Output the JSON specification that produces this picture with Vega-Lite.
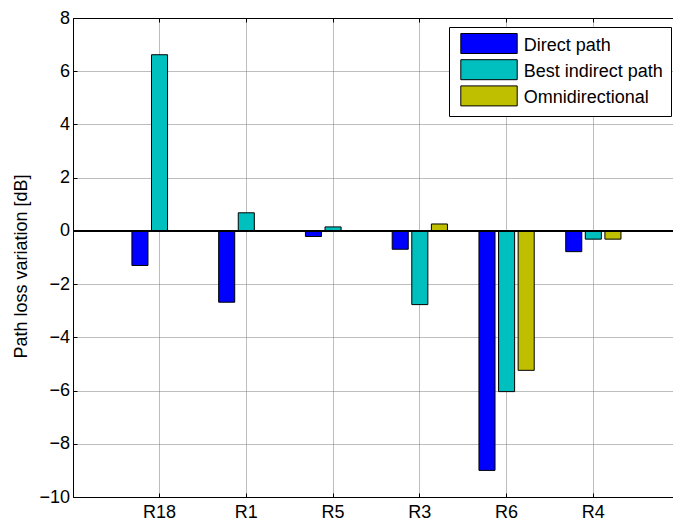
{
  "$schema": "https://vega.github.io/schema/vega-lite/v6.json",
  "width": 600,
  "height": 479,
  "autosize": {"type": "none"},
  "padding": {"left": 73, "top": 18, "right": 0, "bottom": 23},
  "background": "white",
  "config": {"view": {"stroke": null}, "font": "Liberation Sans"},
  "data": {"values": [
    {"site": "R18", "series": "Direct path", "value": -1.30},
    {"site": "R18", "series": "Best indirect path", "value": 6.62},
    {"site": "R1", "series": "Direct path", "value": -2.68},
    {"site": "R1", "series": "Best indirect path", "value": 0.68},
    {"site": "R5", "series": "Direct path", "value": -0.21},
    {"site": "R5", "series": "Best indirect path", "value": 0.15},
    {"site": "R3", "series": "Direct path", "value": -0.69},
    {"site": "R3", "series": "Best indirect path", "value": -2.77},
    {"site": "R3", "series": "Omnidirectional", "value": 0.26},
    {"site": "R6", "series": "Direct path", "value": -9.00},
    {"site": "R6", "series": "Best indirect path", "value": -6.04},
    {"site": "R6", "series": "Omnidirectional", "value": -5.24},
    {"site": "R4", "series": "Direct path", "value": -0.78},
    {"site": "R4", "series": "Best indirect path", "value": -0.31},
    {"site": "R4", "series": "Omnidirectional", "value": -0.31}
  ]},
  "layer": [
    {
      "mark": {"type": "bar", "stroke": "black", "strokeWidth": 1},
      "encoding": {
        "x": {
          "field": "site", "type": "nominal",
          "sort": ["R18", "R1", "R5", "R3", "R6", "R4"],
          "scale": {"domain": ["R18", "R1", "R5", "R3", "R6", "R4"], "paddingInner": 0.3226, "paddingOuter": 0.619, "align": 0.532},
          "axis": {
            "orient": "bottom", "title": null, "labelAngle": 0,
            "labelFontSize": 18, "labelColor": "black", "labelPadding": 10,
            "domainColor": "black", "tickColor": "black", "tickSize": -4,
            "grid": true, "bandPosition": 0.5, "gridColor": "#7a7a7a", "gridDash": [1, 1]
          }
        },
        "xOffset": {
          "field": "series", "type": "nominal",
          "sort": ["Direct path", "Best indirect path", "Omnidirectional"],
          "scale": {"domain": ["Direct path", "Best indirect path", "Omnidirectional"], "paddingInner": 0.18, "paddingOuter": 0.09}
        },
        "y": {
          "field": "value", "type": "quantitative",
          "scale": {"domain": [-10, 8], "nice": false, "zero": false},
          "axis": {
            "values": [-10, -8, -6, -4, -2, 0, 2, 4, 6, 8],
            "title": "Path loss variation [dB]", "titleFontSize": 18, "titleFontWeight": "normal",
            "titleColor": "black", "titleAngle": -90, "titleX": -46.5, "titleY": 248,
            "titleAlign": "center", "titleBaseline": "alphabetic",
            "labelFontSize": 18, "labelColor": "black", "labelPadding": 7.5,
            "domainColor": "black", "tickColor": "black", "tickSize": -4,
            "grid": true, "gridColor": "#7a7a7a", "gridDash": [1, 1]
          }
        },
        "color": {
          "field": "series", "type": "nominal",
          "scale": {"domain": ["Direct path", "Best indirect path", "Omnidirectional"], "range": ["#0000ff", "#00bfbf", "#bfbf00"]},
          "legend": {
            "orient": "none", "legendX": 376, "legendY": 9, "title": null, "direction": "vertical",
            "strokeColor": "black", "fillColor": "white", "padding": 8, "rowPadding": 1.2,
            "symbolType": "M-0.67,-1.2H4.97V0.8H-0.67Z", "symbolSize": 400,
            "symbolStrokeColor": "black", "symbolStrokeWidth": 1, "symbolOpacity": 1,
            "labelOffset": 45.7, "labelFontSize": 18, "labelColor": "black", "labelLimit": 0
          }
        }
      }
    },
    {
      "mark": {"type": "bar", "opacity": 0},
      "encoding": {
        "x": {
          "field": "site", "type": "nominal",
          "sort": ["R18", "R1", "R5", "R3", "R6", "R4"],
          "axis": {
            "orient": "top", "title": null, "labels": false, "grid": false,
            "bandPosition": 0.5, "domainColor": "black", "tickColor": "black", "tickSize": -4
          }
        }
      }
    },
    {
      "mark": {"type": "rule", "color": "black", "strokeWidth": 1},
      "encoding": {"y": {"datum": 0}}
    }
  ],
  "resolve": {"axis": {"x": "independent"}}
}
